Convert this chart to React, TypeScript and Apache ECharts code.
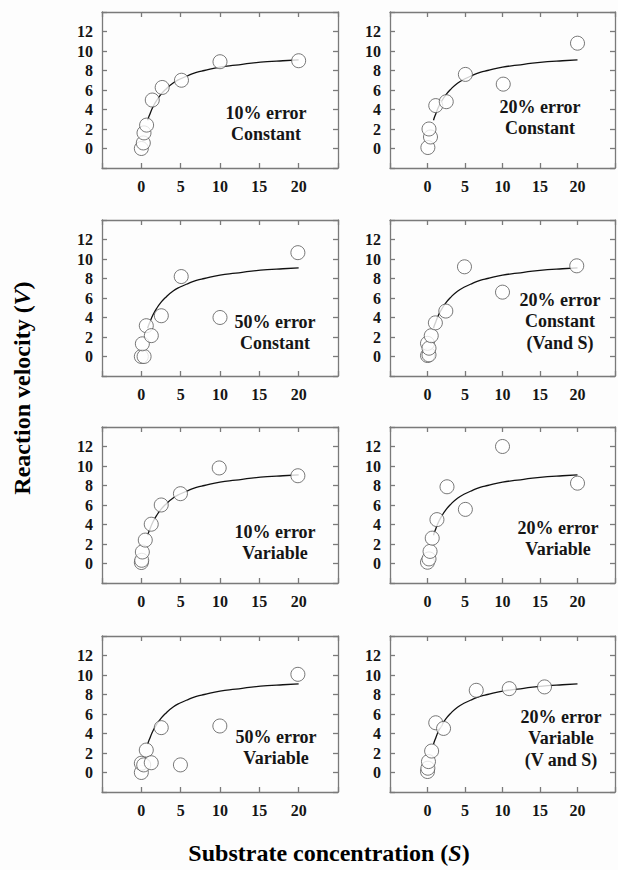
import React, { useEffect, useRef } from "react";
import * as echarts from "echarts";

// Fitted curve (same in every panel)
const curveS = [0.8, 1.0, 1.5, 2, 2.5, 3, 4, 5, 6, 7, 8, 10, 12, 14, 16, 18, 20];
const curveV = [2.9, 3.35, 4.3, 5.0, 5.55, 6.0, 6.7, 7.15, 7.5, 7.8, 8.0, 8.35, 8.55, 8.75, 8.9, 9.0, 9.1];

// Data points per panel
const p1S = [0, 0.25, 0.34, 0.67, 1.39, 2.65, 5.1, 10.0, 20.0];
const p1V = [0, 0.57, 1.6, 2.4, 4.97, 6.26, 7.0, 8.9, 9.0];

const p2S = [0.05, 0.4, 0.2, 1.1, 2.5, 5.05, 10.1, 20.0];
const p2V = [0.1, 1.18, 2.0, 4.4, 4.8, 7.6, 6.6, 10.8];

const p3S = [0, 0.35, 0.13, 0.63, 1.27, 2.54, 5.07, 10.0, 19.9];
const p3V = [0, 0, 1.3, 3.16, 2.14, 4.18, 8.2, 4.0, 10.65];

const p4S = [0.0, 0.2, 0.0, 0.2, 0.5, 1.05, 2.44, 4.93, 10.0, 19.9];
const p4V = [0.1, 0.17, 1.35, 0.85, 2.13, 3.45, 4.66, 9.2, 6.6, 9.3];

const p5S = [0, 0.05, 0.13, 0.5, 1.26, 2.53, 4.97, 9.9, 19.9];
const p5V = [0.1, 0.33, 1.18, 2.4, 4.03, 6.0, 7.16, 9.8, 9.0];

const p6S = [0, 0.2, 0.34, 0.63, 1.26, 2.6, 5.05, 10.0, 20.0];
const p6V = [0.13, 0.47, 1.24, 2.6, 4.5, 7.87, 5.55, 12.0, 8.24];

const p7S = [0, 0, 0.3, 0.63, 1.26, 2.53, 4.97, 9.98, 19.9];
const p7V = [0, 0.95, 0.78, 2.3, 1.0, 4.6, 0.78, 4.77, 10.07];

const p8S = [0, 0.05, 0.13, 0.55, 1.1, 2.14, 6.5, 10.9, 15.6];
const p8V = [0.1, 0.44, 1.12, 2.2, 5.1, 4.52, 8.43, 8.6, 8.78];

const panelS = [p1S, p2S, p3S, p4S, p5S, p6S, p7S, p8S];
const panelV = [p1V, p2V, p3V, p4V, p5V, p6V, p7V, p8V];

const panelLabels = [
  "10% error\nConstant",
  "20% error\nConstant",
  "50% error\nConstant",
  "20% error\nConstant\n(Vand S)",
  "10% error\nVariable",
  "20% error\nVariable",
  "50% error\nVariable",
  "20% error\nVariable\n(V and S)",
];

const xTickLabels = [0, 5, 10, 15, 20];
const yTickLabels = [0, 2, 4, 6, 8, 10, 12];

const yTitle = "Reaction velocity";
const xTitle = "Substrate concentration";

// layout
const rowsTop = [12, 220, 427, 636];
const colsLeft = [102, 390];
const W = 236;
const H = 156;
const labelPos = [
  [266, 113],
  [540, 107],
  [275, 322],
  [560, 300],
  [275, 532],
  [558, 528],
  [276, 737],
  [561, 717],
];

const FONT = "Liberation Serif";
const frameColor = "#7a7a7a";

export default function App() {
  const ref = useRef<HTMLDivElement>(null);

  useEffect(() => {
    if (!ref.current) return;
    const chart = echarts.init(ref.current, undefined, { renderer: "svg" });

    const grids: any[] = [];
    const xAxes: any[] = [];
    const yAxes: any[] = [];
    const series: any[] = [];
    const graphics: any[] = [];

    const lineStyle = { color: frameColor, width: 1.3 };
    const labelStyle = {
      fontFamily: FONT,
      fontWeight: "bold",
      fontSize: 16,
      color: "#151515",
    };

    for (let i = 0; i < 8; i++) {
      const row = Math.floor(i / 2);
      const col = i % 2;
      grids.push({ left: colsLeft[col], top: rowsTop[row], width: W, height: H, containLabel: false });

      const xBase = {
        gridIndex: i,
        type: "value",
        min: -5,
        max: 25,
        interval: 5,
        axisLine: { show: true, onZero: false, lineStyle },
        axisTick: { show: true, inside: true, length: 5, lineStyle },
        splitLine: { show: false },
      };
      xAxes.push({
        ...xBase,
        position: "bottom",
        axisLabel: {
          ...labelStyle,
          margin: 10,
          formatter: (v: number) => (xTickLabels.includes(v) ? String(v) : ""),
        },
      });
      xAxes.push({ ...xBase, position: "top", axisLabel: { show: false } });

      const yBase = {
        gridIndex: i,
        type: "value",
        min: -2,
        max: 14,
        interval: 2,
        axisLine: { show: true, onZero: false, lineStyle },
        axisTick: { show: true, inside: true, length: 5, lineStyle },
        splitLine: { show: false },
      };
      yAxes.push({
        ...yBase,
        position: "left",
        axisLabel: {
          ...labelStyle,
          margin: 9,
          formatter: (v: number) => (yTickLabels.includes(v) ? String(v) : ""),
        },
      });
      yAxes.push({ ...yBase, position: "right", axisLabel: { show: false } });

      series.push({
        type: "line",
        xAxisIndex: 2 * i,
        yAxisIndex: 2 * i,
        data: curveS.map((s, k) => [s, curveV[k]]),
        smooth: true,
        showSymbol: false,
        symbol: "none",
        lineStyle: { color: "#111", width: 1.3 },
        z: 2,
      });
      series.push({
        type: "scatter",
        xAxisIndex: 2 * i,
        yAxisIndex: 2 * i,
        data: panelS[i].map((s, k) => [s, panelV[i][k]]),
        symbol: "circle",
        symbolSize: 14,
        itemStyle: { color: "#ffffff", borderColor: "#555", borderWidth: 1 },
        z: 3,
      });

      graphics.push({
        type: "text",
        x: labelPos[i][0],
        y: labelPos[i][1] - 11,
        z: 10,
        style: {
          text: panelLabels[i],
          textAlign: "center",
          textVerticalAlign: "top",
          fontFamily: FONT,
          fontWeight: "bold",
          fontSize: 18,
          lineHeight: 21.5,
          fill: "#151515",
        },
      });
    }

    const rich = {
      a: { fontFamily: FONT, fontWeight: "bold", fontSize: 24, color: "#111" },
      b: { fontFamily: FONT, fontWeight: "bold", fontStyle: "italic", fontSize: 24, color: "#111" },
    };
    graphics.push({
      type: "text",
      x: 22,
      y: 388,
      rotation: Math.PI / 2,
      style: {
        text: `{a|${yTitle} (}{b|V}{a|)}`,
        textAlign: "center",
        textVerticalAlign: "middle",
        rich,
      },
    });
    graphics.push({
      type: "text",
      x: 329,
      y: 853,
      style: {
        text: `{a|${xTitle} (}{b|S}{a|)}`,
        textAlign: "center",
        textVerticalAlign: "middle",
        rich,
      },
    });

    chart.setOption({
      animation: false,
      backgroundColor: "#fdfdfd",
      grid: grids,
      xAxis: xAxes,
      yAxis: yAxes,
      series,
      graphic: graphics,
    });

    return () => chart.dispose();
  }, []);

  return (
    <div
      ref={ref}
      style={{ position: "fixed", left: 0, top: 0, width: 618, height: 870 }}
    />
  );
}
